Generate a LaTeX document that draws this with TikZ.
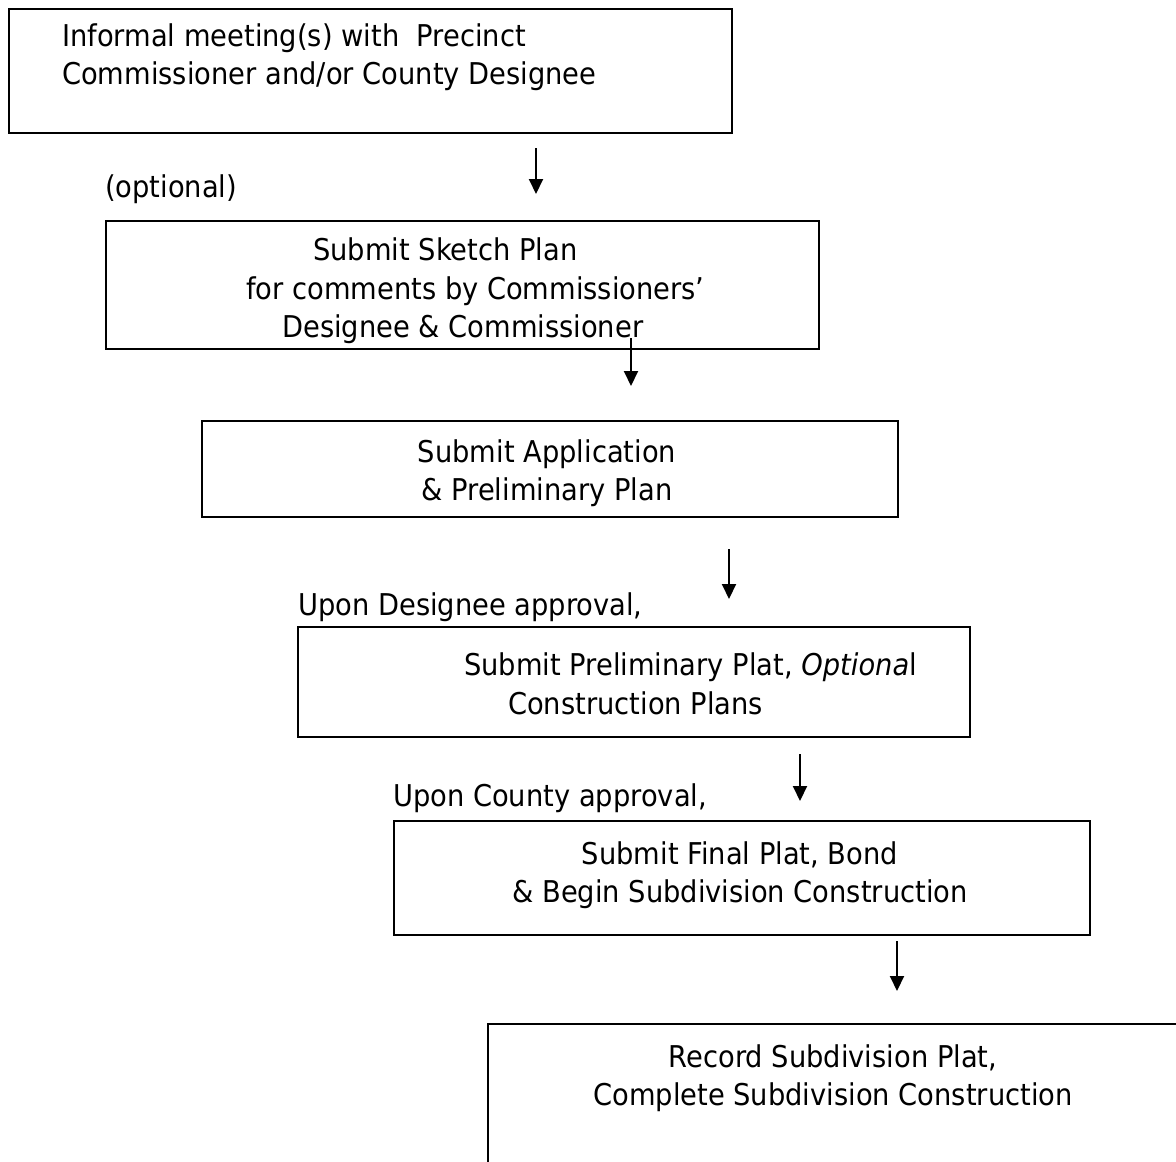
\documentclass[tikz,border=0pt]{standalone}
\usepackage{fontspec}
\setmainfont{DejaVu Sans}[FakeStretch=0.91]
\usetikzlibrary{arrows.meta,calc}
\begin{document}
\begin{tikzpicture}[x=1pt,y=-1pt,
  box/.style={draw=black,line width=2pt,rectangle,inner sep=0pt,anchor=north west},
  txt/.style={inner sep=0pt,font=\fontsize{30}{38.5}\selectfont,align=center},
  arr/.style={line width=2pt,-{Triangle[width=14pt,length=15pt]}}]
\useasboundingbox (0,0) rectangle (1176,1162);
\begin{scope}
\clip (0,0) rectangle (1176,1162);
% boxes
\node[box,minimum width=723pt,minimum height=124pt] (b1) at (8,8) {};
\node[box,minimum width=713pt,minimum height=128pt] (b2) at (105,220) {};
\node[box,minimum width=696pt,minimum height=96pt] (b3) at (201,420) {};
\node[box,minimum width=672pt,minimum height=110pt] (b4) at (297,626) {};
\node[box,minimum width=696pt,minimum height=114pt] (b5) at (393,820) {};
\node[box,minimum width=720pt,minimum height=200pt] (b6) at (487,1023) {};
\end{scope}
% texts
\node[txt,anchor=west,align=left] (t1) at (62,57) {Informal meeting(s) with\ \ Precinct\\Commissioner and/or County Designee};
\node[txt,anchor=west] (opt) at (105,189) {(optional)};
\node[txt,anchor=west,align=left] (t2) at (246,291) {\hspace*{67pt}Submit Sketch Plan\\for comments by Commissioners'\\\hspace*{36pt}Designee \& Commissioner};
\node[txt] (t3) at (547,473) {Submit Application\\\& Preliminary Plan};
\node[txt,anchor=west] (u1) at (298,607) {Upon Designee approval,};
\node[txt,anchor=west,align=left] (t4) at (464,684) {Submit Preliminary Plat, \textit{Optiona}l\\\hspace*{44pt}Construction Plans};
\node[txt,anchor=west] (u2) at (393,798) {Upon County approval,};
\node[txt] (t5) at (740,875) {Submit Final Plat, Bond\\\& Begin Subdivision Construction};
\node[txt] (t6) at (833,1078) {Record Subdivision Plat,\\Complete Subdivision Construction};
% arrow endpoints
\coordinate (a1s) at (536,148); \coordinate (a1e) at (536,194);
\coordinate (a2s) at (631,338); \coordinate (a2e) at (631,386);
\coordinate (a3s) at (729,549); \coordinate (a3e) at (729,599);
\coordinate (a4s) at (800,754); \coordinate (a4e) at (800,801);
\coordinate (a5s) at (897,941); \coordinate (a5e) at (897,991);
\draw[arr] (a1s) -- (a1e);
\draw[arr] (a2s) -- (a2e);
\draw[arr] (a3s) -- (a3e);
\draw[arr] (a4s) -- (a4e);
\draw[arr] (a5s) -- (a5e);
\end{tikzpicture}
\end{document}
